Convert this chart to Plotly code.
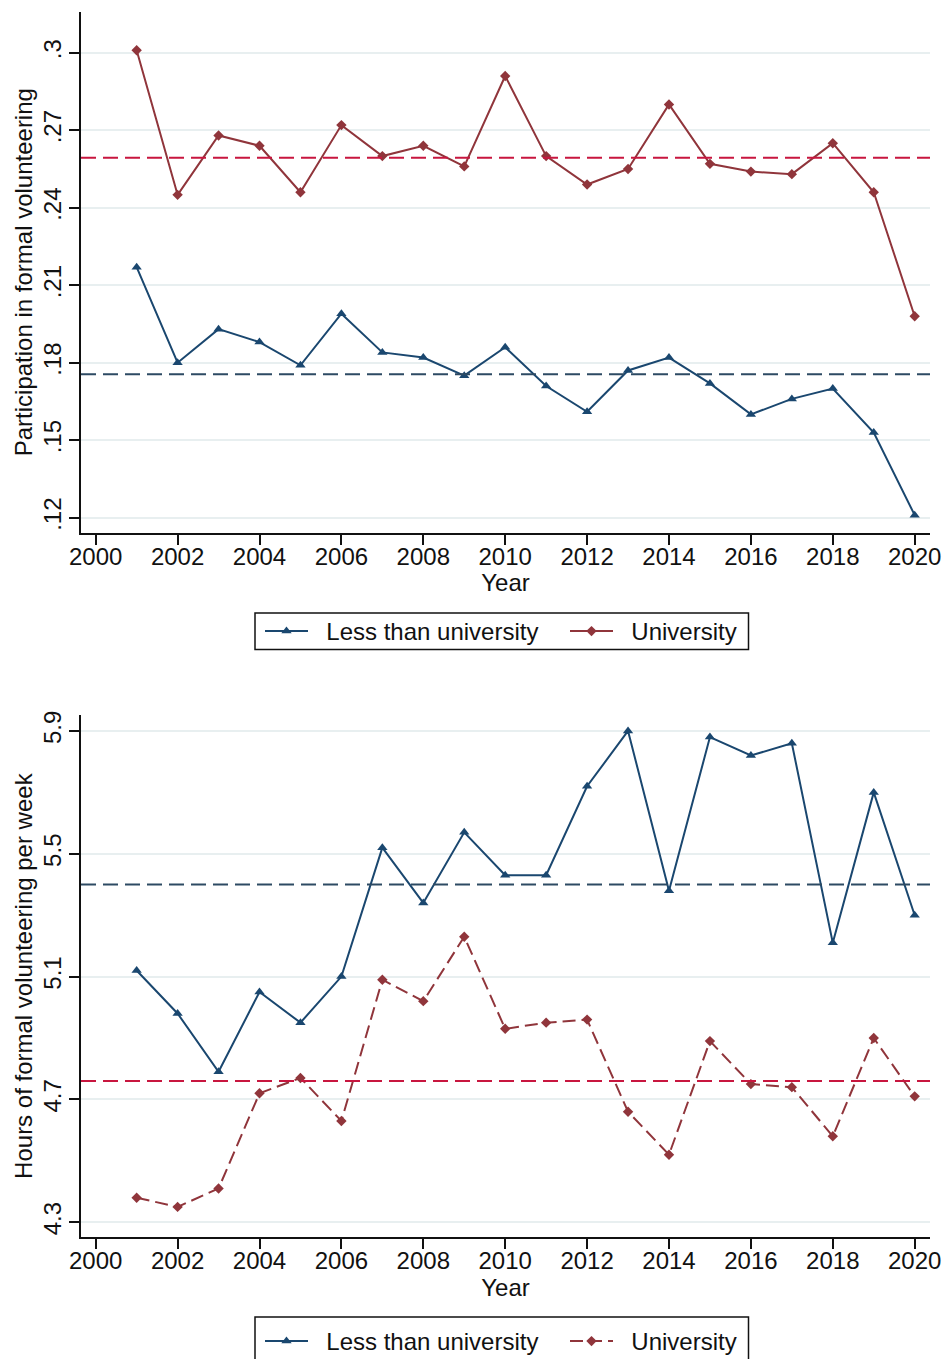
import plotly.graph_objects as go

# Survey years
years = list(range(2001, 2021))

# Share participating in formal volunteering
part_less = [0.217, 0.180, 0.193, 0.188, 0.179, 0.199, 0.184, 0.182, 0.175, 0.186,
             0.171, 0.161, 0.177, 0.182, 0.172, 0.160, 0.166, 0.170, 0.153, 0.121]
part_univ = [0.301, 0.245, 0.268, 0.264, 0.246, 0.272, 0.260, 0.264, 0.256, 0.291,
             0.260, 0.249, 0.255, 0.280, 0.257, 0.254, 0.253, 0.265, 0.246, 0.198]
part_mean_less = 0.1755
part_mean_univ = 0.2594

# Weekly hours of formal volunteering
hours_less = [5.12, 4.98, 4.79, 5.05, 4.95, 5.10, 5.52, 5.34, 5.57, 5.43,
              5.43, 5.72, 5.90, 5.38, 5.88, 5.82, 5.86, 5.21, 5.70, 5.30]
hours_univ = [4.38, 4.35, 4.41, 4.72, 4.77, 4.63, 5.09, 5.02, 5.23, 4.93,
              4.95, 4.96, 4.66, 4.52, 4.89, 4.75, 4.74, 4.58, 4.90, 4.71]
hours_mean_less = 5.40
hours_mean_univ = 4.76

# Series names and axis ticks
series_names = ["Less than university", "University"]
x_ticks = list(range(2000, 2021, 2))
part_ticks = [0.12, 0.15, 0.18, 0.21, 0.24, 0.27, 0.30]
part_tick_text = [".12", ".15", ".18", ".21", ".24", ".27", ".3"]
hours_ticks = [4.3, 4.7, 5.1, 5.5, 5.9]
hours_tick_text = ["4.3", "4.7", "5.1", "5.5", "5.9"]

W, H = 944, 1359
NAVY = "#1a476f"
MAROON = "#90353b"
CRIMSON = "#c8163f"
MEAN_NAVY = "#2d4a63"
GRID = "#e8eff0"
INK = "#111111"
FONT = "Liberation Sans, Arial, sans-serif"
PAD = "\u00a0\u00a0"  # small gap between legend key and label

fig = go.Figure()


def py(px):
    """Pixel row -> paper y fraction."""
    return 1 - px / H


def pxx(px):
    return px / W


x_dom = [pxx(81), pxx(930)]
top_dom = [py(532.7), py(11.7)]
bot_dom = [py(1237.3), py(715)]


def add_series(xa, ya, y, name, color, symbol, size, dash, legend, lw):
    fig.add_trace(go.Scatter(
        x=years, y=y, name=PAD + name, mode="lines+markers",
        xaxis=xa, yaxis=ya, legend=legend, legendwidth=lw,
        line=dict(color=color, width=2, dash=dash),
        marker=dict(symbol=symbol, size=size, color=color),
    ))


add_series("x", "y", part_less, series_names[0], NAVY, "triangle-up", 9, "solid", "legend", 247)
add_series("x", "y", part_univ, series_names[1], MAROON, "diamond", 8, "solid", "legend", 120)
add_series("x2", "y2", hours_less, series_names[0], NAVY, "triangle-up", 9, "solid", "legend2", 247)
add_series("x2", "y2", hours_univ, series_names[1], MAROON, "diamond", 8, "13px,6px", "legend2", 120)


# Overall means as dashed reference lines
def mean_line(yref, val, color):
    fig.add_shape(type="line", xref="paper", yref=yref,
                  x0=x_dom[0], x1=x_dom[1], y0=val, y1=val,
                  line=dict(color=color, width=2, dash="15px,7px"))


mean_line("y", part_mean_less, MEAN_NAVY)
mean_line("y", part_mean_univ, CRIMSON)
mean_line("y2", hours_mean_less, MEAN_NAVY)
mean_line("y2", hours_mean_univ, CRIMSON)

# Legend frames
for top, bottom in [(613, 649.5), (1317, 1380)]:
    fig.add_shape(type="rect", xref="paper", yref="paper",
                  x0=pxx(255), x1=pxx(748.5), y0=py(bottom), y1=py(top),
                  line=dict(color=INK, width=1.5), fillcolor="rgba(0,0,0,0)")

tick_font = dict(size=24, color=INK, family=FONT)

xaxis_common = dict(
    domain=x_dom, range=[1999.641, 2020.374], tickvals=x_ticks,
    ticks="outside", ticklen=10, tickwidth=1.5, tickcolor=INK,
    showline=True, linecolor=INK, linewidth=2, showgrid=False, zeroline=False,
    tickfont=tick_font, automargin=False, ticklabelstandoff=-9,
    title=dict(text="Year", font=tick_font, standoff=0),
)
yaxis_common = dict(
    ticks="outside", ticklen=10, tickwidth=1.5, tickcolor=INK,
    showline=True, linecolor=INK, linewidth=2, automargin=False,
    showgrid=True, gridcolor=GRID, gridwidth=2, zeroline=False, tickangle=-90,
    tickfont=tick_font, ticklabelstandoff=-2,
)

fig.update_layout(
    width=W, height=H, margin=dict(l=0, r=0, t=0, b=0, autoexpand=False),
    paper_bgcolor="white", plot_bgcolor="white",
    font=dict(family=FONT, size=24, color=INK),
    xaxis=dict(anchor="y", **xaxis_common),
    xaxis2=dict(anchor="y2", **xaxis_common),
    yaxis=dict(anchor="x", domain=top_dom, range=[0.1142, 0.3159],
               tickvals=part_ticks, ticktext=part_tick_text,
               title=dict(text="Participation in formal volunteering", font=tick_font, standoff=0),
               **yaxis_common),
    yaxis2=dict(anchor="x2", domain=bot_dom, range=[4.251, 5.952],
                tickvals=hours_ticks, ticktext=hours_tick_text,
                title=dict(text="Hours of formal volunteering per week", font=tick_font, standoff=0),
                **yaxis_common),
    showlegend=True,
)

legend_common = dict(
    orientation="h", xanchor="left", yanchor="middle", x=pxx(260),
    borderwidth=0, bgcolor="rgba(0,0,0,0)",
    font=dict(size=24, color=INK, family=FONT),
    itemwidth=43, tracegroupgap=0,
)
fig.update_layout(
    legend=dict(y=py(631.5), **legend_common),
    legend2=dict(y=py(1341.5), **legend_common),
)

fig.write_html("out.html")
